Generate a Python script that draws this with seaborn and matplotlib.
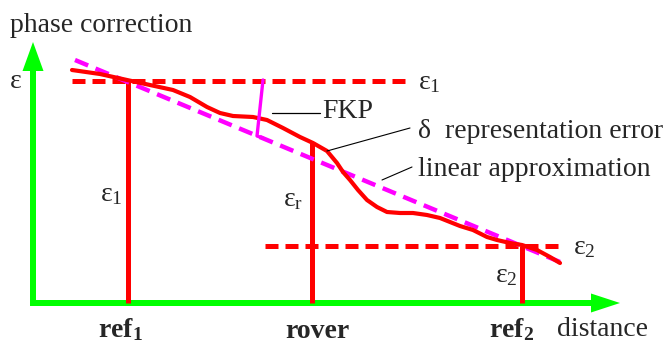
import numpy as np
import pandas as pd
import matplotlib
matplotlib.use("Agg")
import matplotlib.pyplot as plt
import seaborn as sns

# distance / phase values (origin at the axis corner)
curve_x = [39, 67, 94, 117, 140, 157, 174, 187, 200, 220, 234, 250, 267, 280,
           294, 304, 310, 317, 325, 334, 344, 354, 367, 380, 394, 407, 417,
           427, 440, 454, 464, 477, 489, 504, 517, 527]
curve_y = [233, 229, 223, 218, 213, 206, 196, 190, 187, 186, 183, 175, 166, 160,
           152, 140, 131, 123, 113, 103, 96, 91, 90, 90, 88, 85, 81,
           77, 73, 66, 63, 60, 58, 53, 46, 40]
linear_x = [42, 527]
linear_y = [243, 41]

station_names = ["ref1", "rover", "ref2"]
station_x = [95, 279, 489]
station_eps = [222, 160, 57]

eps1_level = 222
eps1_span = [39, 372]
eps2_level = 57
eps2_span = [232, 532]

fkp_x = [230, 224, 230]
fkp_y = [223, 167, 165]

sns.set_style("white")
plt.rcParams["font.family"] = ["Liberation Serif", "DejaVu Serif"]
plt.rcParams["mathtext.fontset"] = "custom"
plt.rcParams["mathtext.rm"] = "Liberation Serif"
plt.rcParams["mathtext.it"] = "Liberation Serif:italic"
plt.rcParams["mathtext.bf"] = "Liberation Serif:bold"

RED = "#ff0000"
MAG = "#ff00ff"
GREEN = "#00ff00"
FS = 20

fig = plt.figure(figsize=(6.67, 3.49), dpi=100)
ax = fig.add_axes([0, 0, 1, 1])
ax.set_xlim(-33, 634)
ax.set_ylim(-46, 303)
ax.axis("off")

# axes arrows
ax.arrow(0, 0, 0, 261, width=6, head_width=21, head_length=29,
         length_includes_head=True, color=GREEN, lw=0)
ax.arrow(-3, 0, 590, 0, width=6, head_width=19, head_length=29,
         length_includes_head=True, color=GREEN, lw=0)

# reference levels
ax.plot(eps1_span, [eps1_level] * 2, color=RED, lw=3.6, ls=(0, (2.6, 1.4)))
ax.plot(eps2_span, [eps2_level] * 2, color=RED, lw=3.6, ls=(0, (2.6, 1.4)))

# station verticals
for sx, se in zip(station_x, station_eps):
    ax.plot([sx, sx], [0, se], color=RED, lw=3.6, solid_capstyle="butt")

# linear approximation and true correction
lin = pd.DataFrame({"d": linear_x, "p": linear_y})
sns.lineplot(data=lin, x="d", y="p", ax=ax, color=MAG, lw=3.2,
             linestyle=(0, (3.2, 1.8)))
cur = pd.DataFrame({"d": curve_x, "p": curve_y})
sns.lineplot(data=cur, x="d", y="p", ax=ax, color=RED, lw=3.0, sort=False,
             solid_joinstyle="round", solid_capstyle="round")

# FKP bracket
ax.plot(fkp_x, fkp_y, color=MAG, lw=2.4, solid_joinstyle="round")

# leader lines
ax.plot([239, 287], [190, 190], color="black", lw=0.9)
ax.plot([294, 377], [152, 175], color="black", lw=0.8)
ax.plot([349, 379], [123, 136], color="black", lw=0.8)

ax.set_xlabel("")
ax.set_ylabel("")

ax.text(-23, 278, "phase correction", fontsize=FS, va="center", ha="left")
ax.text(-23, 221, "ε", fontsize=FS, va="center", ha="left")
ax.text(67, 108, r"$\mathrm{ε_1}$", fontsize=FS, va="center", ha="left")
ax.text(250, 103, r"$\mathrm{ε_r}$", fontsize=FS, va="center", ha="left")
ax.text(462, 27, r"$\mathrm{ε_2}$", fontsize=FS, va="center", ha="left")
ax.text(385, 220, r"$\mathrm{ε_1}$", fontsize=FS, va="center", ha="left")
ax.text(540, 55, r"$\mathrm{ε_2}$", fontsize=FS, va="center", ha="left")
ax.text(289, 191, "FKP", fontsize=FS, va="center", ha="left")
ax.text(385, 171, "δ  representation error", fontsize=FS, va="center", ha="left")
ax.text(385, 133, "linear approximation", fontsize=FS, va="center", ha="left")

ax.text(87, -27, r"$\mathbf{ref_1}$", fontsize=FS, va="center", ha="center")
ax.text(284, -29, "rover", fontsize=FS, va="center", ha="center", fontweight="bold")
ax.text(479, -27, r"$\mathbf{ref_2}$", fontsize=FS, va="center", ha="center")
ax.text(524, -27, "distance", fontsize=FS, va="center", ha="left")

fig.savefig("out.png", dpi=100)
